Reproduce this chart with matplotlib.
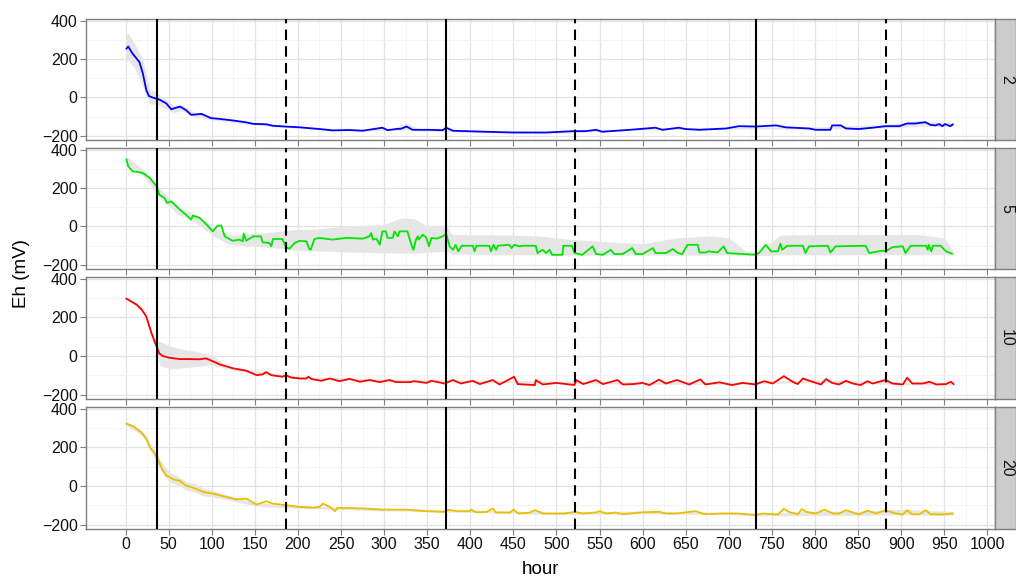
import numpy as np
import matplotlib
matplotlib.use("Agg")
import matplotlib.pyplot as plt

plt.rcParams['font.family'] = ['Liberation Sans', 'DejaVu Sans']

# treatment (facet) labels and line colours
groups = ['2', '5', '10', '20']
colors = ['#0000FF', '#00E600', '#FF0000', '#E8C000']

# event times (hours): solid = start, dashed = end
solid_times = [36, 372, 732]
dashed_times = [186, 522, 882]

# --- group 2 ---
h2 = [1, 3, 8, 16, 20, 24, 27, 32, 38, 47,
      53, 58, 63, 70, 76, 88, 99, 109, 124, 140,
      148, 163, 171, 186, 202, 225, 240, 260, 275, 298,
      304, 314, 320, 326, 333, 352, 368, 372, 380, 410,
      449, 488, 519, 534, 546, 553, 585, 615, 623, 642,
      650, 666, 697, 712, 731, 755, 766, 793, 801, 818,
      820, 830, 836, 851, 867, 882, 898, 907, 917, 928,
      934, 940, 944, 948, 951, 957, 960]
eh2 = [254, 265, 228, 184, 124, 38, 7, -2, -9, -31,
       -62, -55, -48, -66, -91, -86, -108, -112, -120, -130,
       -138, -140, -148, -152, -156, -165, -172, -170, -174, -158,
       -171, -165, -163, -152, -169, -169, -171, -158, -174, -178,
       -183, -183, -176, -176, -169, -179, -169, -158, -169, -158,
       -165, -169, -162, -150, -152, -146, -156, -162, -169, -169,
       -146, -146, -162, -165, -158, -150, -150, -136, -136, -129,
       -143, -146, -139, -150, -139, -150, -141]
rib_h2 = [1, 3, 10, 20, 28, 35, 45, 55, 65, 80, 100, 130, 180, 250, 310,
          325, 340, 400, 500, 600, 700, 800, 880, 900, 920, 940, 960]
rib_lo2 = [185, 195, 155, 55, -35, -35, -55, -80, -70, -102, -116, -134, -155, -175, -170,
           -170, -174, -182, -186, -169, -165, -166, -158, -157, -149, -152, -151]
rib_hi2 = [325, 335, 285, 195, 45, 25, -5, -40, -40, -78, -100, -122, -145, -165, -160,
           -134, -164, -174, -178, -161, -155, -154, -142, -133, -121, -128, -131]

# --- group 5 ---
h5 = [1, 3, 8, 20, 28, 36, 39, 45, 48, 53,
      57, 63, 70, 76, 78, 86, 94, 101, 107, 111,
      115, 124, 132, 136, 137, 140, 148, 157, 159, 167,
      169, 171, 182, 186, 190, 196, 202, 210, 213, 215,
      219, 225, 235, 240, 256, 275, 283, 285, 287, 291,
      295, 298, 302, 304, 310, 312, 316, 318, 327, 331,
      334, 337, 339, 340, 345, 349, 352, 355, 361, 368,
      372, 376, 380, 383, 386, 390, 403, 405, 407, 422,
      424, 427, 430, 432, 445, 448, 451, 457, 461, 476,
      478, 484, 488, 492, 495, 507, 508, 518, 521, 530,
      542, 546, 554, 563, 567, 577, 588, 592, 600, 612,
      615, 627, 635, 641, 646, 652, 664, 666, 673, 677,
      687, 691, 694, 698, 731, 735, 743, 749, 757, 760,
      762, 768, 786, 789, 793, 815, 818, 824, 859, 863,
      878, 882, 890, 902, 905, 911, 929, 931, 932, 935,
      937, 946, 952, 959]
eh5 = [348, 313, 287, 278, 252, 209, 165, 148, 122, 130,
       113, 87, 61, 35, 56, 44, 9, -26, 4, 4,
       -52, -75, -69, -78, -38, -75, -52, -52, -83, -87,
       -104, -66, -66, -107, -117, -87, -75, -78, -117, -121,
       -66, -60, -66, -69, -60, -64, -52, -35, -69, -64,
       -96, -26, -26, -60, -60, -26, -52, -26, -26, -87,
       -122, -69, -52, -69, -43, -60, -104, -60, -64, -52,
       -38, -104, -122, -96, -130, -101, -101, -130, -101, -101,
       -130, -96, -122, -101, -96, -113, -96, -104, -101, -101,
       -139, -122, -139, -122, -148, -148, -101, -101, -139, -148,
       -104, -144, -148, -122, -144, -144, -113, -144, -144, -113,
       -139, -139, -118, -139, -144, -96, -96, -136, -136, -130,
       -136, -118, -104, -139, -148, -139, -96, -130, -130, -90,
       -122, -101, -101, -139, -104, -101, -136, -104, -101, -139,
       -127, -130, -108, -104, -139, -101, -101, -122, -96, -130,
       -101, -101, -130, -142]
rib_h5 = [1, 20, 40, 60, 80, 100, 120, 140, 160, 180, 200, 220, 240, 260, 280,
          300, 320, 335, 350, 372, 380, 400, 440, 480, 500, 520, 560, 600, 640, 680,
          700, 720, 735, 760, 800, 840, 880, 920, 950, 960]
rib_lo5 = [330, 262, 150, 65, 25, -45, -95, -100, -105, -115, -125, -128, -130, -135, -135,
           -138, -139, -140, -135, -130, -145, -145, -148, -148, -150, -150, -150, -150, -150, -150,
           -148, -150, -152, -148, -148, -148, -148, -148, -148, -148]
rib_hi5 = [365, 295, 195, 105, 65, 0, -45, -40, -35, -25, -15, -15, -5, 0, 5,
           10, 44, 40, 0, 0, -43, -43, -45, -50, -60, -69, -80, -90, -60, -50,
           -60, -130, -130, -45, -43, -43, -43, -43, -60, -125]

# --- group 10 ---
h10 = [1, 13, 18, 24, 30, 36, 39, 43, 51, 63,
       74, 86, 93, 98, 109, 125, 140, 152, 159, 163,
       169, 182, 186, 192, 202, 210, 212, 216, 227, 237,
       248, 260, 272, 283, 295, 306, 314, 330, 335, 349,
       355, 370, 380, 389, 403, 411, 426, 434, 451, 455,
       475, 476, 484, 500, 521, 523, 531, 546, 554, 571,
       577, 589, 600, 608, 619, 627, 640, 654, 667, 673,
       689, 704, 716, 731, 741, 751, 764, 774, 780, 786,
       797, 807, 813, 820, 828, 836, 844, 853, 861, 867,
       882, 890, 902, 907, 913, 925, 933, 941, 952, 958,
       961]
eh10 = [296, 265, 243, 204, 118, 48, 14, 0, -9, -16,
        -16, -17, -12, -21, -43, -64, -76, -99, -95, -83,
        -99, -107, -99, -111, -116, -116, -107, -119, -128, -116,
        -130, -118, -133, -124, -135, -124, -135, -135, -130, -139,
        -128, -142, -124, -142, -128, -145, -124, -147, -107, -145,
        -150, -124, -147, -139, -150, -124, -145, -124, -145, -124,
        -147, -145, -139, -150, -122, -142, -124, -147, -121, -147,
        -136, -150, -139, -147, -130, -142, -104, -133, -145, -116,
        -133, -147, -119, -139, -147, -128, -142, -150, -130, -142,
        -124, -142, -147, -112, -142, -142, -133, -147, -145, -133,
        -145]
rib_h10 = [1, 20, 35, 40, 50, 60, 80, 100, 115, 130, 200, 300, 400, 500, 600,
           700, 800, 900, 960]
rib_lo10 = [290, 232, 40, -50, -64, -64, -55, -45, -65, -78, -118, -130, -136, -141, -146,
            -146, -137, -147, -151]
rib_hi10 = [302, 248, 75, 75, 55, 40, 25, 5, -45, -62, -106, -118, -124, -129, -134,
            -134, -123, -133, -139]

# --- group 20 ---
h20 = [1, 9, 18, 24, 28, 34, 38, 42, 47, 51,
       55, 63, 70, 78, 90, 101, 117, 128, 140, 152,
       163, 171, 186, 202, 218, 225, 229, 237, 243, 246,
       256, 275, 298, 325, 349, 370, 374, 384, 399, 401,
       407, 419, 426, 430, 446, 450, 456, 469, 475, 485,
       508, 521, 531, 546, 550, 558, 569, 577, 600, 619,
       627, 640, 650, 662, 667, 673, 692, 712, 731, 739,
       757, 764, 770, 780, 785, 790, 801, 811, 821, 828,
       836, 851, 861, 871, 882, 894, 902, 907, 913, 921,
       929, 934, 948, 960]
eh20 = [322, 308, 278, 244, 201, 167, 132, 90, 55, 46,
        35, 26, 2, -8, -31, -39, -57, -69, -65, -96,
        -79, -91, -99, -108, -112, -108, -91, -108, -130, -113,
        -113, -116, -122, -122, -130, -134, -122, -130, -130, -122,
        -136, -134, -116, -137, -137, -122, -142, -137, -125, -142,
        -142, -134, -142, -136, -130, -142, -137, -146, -136, -133,
        -142, -142, -136, -130, -139, -146, -142, -142, -151, -142,
        -147, -118, -134, -146, -119, -134, -142, -122, -142, -142,
        -125, -147, -127, -142, -125, -142, -147, -125, -146, -146,
        -125, -146, -147, -142]
rib_h20 = [1, 20, 30, 40, 50, 60, 70, 80, 90, 100, 120, 150, 200, 300, 400,
           500, 600, 700, 750, 800, 850, 900, 960]
rib_lo20 = [312, 258, 170, 85, 25, 5, -20, -32, -50, -56, -72, -103, -115, -128, -136,
            -148, -143, -148, -155, -152, -152, -148, -152]
rib_hi20 = [332, 282, 210, 135, 75, 51, 24, 12, -12, -22, -48, -87, -101, -116, -124,
            -136, -129, -136, -139, -130, -130, -120, -132]

series = [(h2, eh2, rib_h2, rib_lo2, rib_hi2),
          (h5, eh5, rib_h5, rib_lo5, rib_hi5),
          (h10, eh10, rib_h10, rib_lo10, rib_hi10),
          (h20, eh20, rib_h20, rib_lo20, rib_hi20)]

W, H = 1016, 581
fig = plt.figure(figsize=(W / 100, H / 100), dpi=100)

left, right = 86, 995
strip_w = 21
panel_px = [(19, 140), (148, 269), (277, 399), (407, 529)]

border = '#7F7F7F'

for i, (top, bot) in enumerate(panel_px):
    ax = fig.add_axes([left / W, 1 - bot / H, (right - left) / W, (bot - top) / H])
    hrs, eh, rh, rlo, rhi = series[i]

    ax.fill_between(rh, rlo, rhi, color='#E6E6E6', lw=0, zorder=1)
    ax.plot(hrs, eh, color=colors[i], lw=1.3, zorder=2)
    for t in solid_times:
        ax.axvline(t, color='black', lw=1.5, zorder=3)
    for t in dashed_times:
        ax.axvline(t, color='black', lw=1.5, ls=(0, (5, 3)), zorder=3)

    ax.set_xlim(-46, 1009)
    ax.set_ylim(-222, 408)
    ax.set_xticks(np.arange(0, 1001, 50))
    ax.set_xticks(np.arange(25, 1000, 50), minor=True)
    ax.set_yticks([-200, 0, 200, 400])
    ax.set_yticks([-100, 100, 300], minor=True)
    ax.grid(which='major', color='#E3E3E3', lw=0.9, zorder=0)
    ax.grid(which='minor', color='#F2F2F2', lw=0.6, zorder=0)
    ax.set_axisbelow(True)
    for s in ax.spines.values():
        s.set_color(border)
        s.set_linewidth(1.0)
    ax.tick_params(which='major', direction='out', length=4, width=0.8,
                   color=border, labelsize=11.5, labelcolor='#111111', pad=2)
    ax.tick_params(which='minor', length=0)
    if i < 3:
        ax.tick_params(axis='x', labelbottom=False)

    # facet strip on the right
    sax = fig.add_axes([right / W, 1 - bot / H, strip_w / W, (bot - top) / H])
    sax.set_facecolor('#CCCCCC')
    sax.set_xticks([])
    sax.set_yticks([])
    for s in sax.spines.values():
        s.set_color(border)
        s.set_linewidth(1.0)
    sax.text(0.55, 0.5, groups[i], rotation=-90, ha='center', va='center',
             fontsize=11.5, color='#111111', transform=sax.transAxes)

fig.text(22 / W, 1 - 274 / H, 'Eh (mV)', rotation=90, ha='center', va='center',
         fontsize=13.5, color='black')
fig.text((left + right) / 2 / W, 1 - 570 / H, 'hour', ha='center', va='center',
         fontsize=13.5, color='black')

fig.savefig('out.png', dpi=100)
